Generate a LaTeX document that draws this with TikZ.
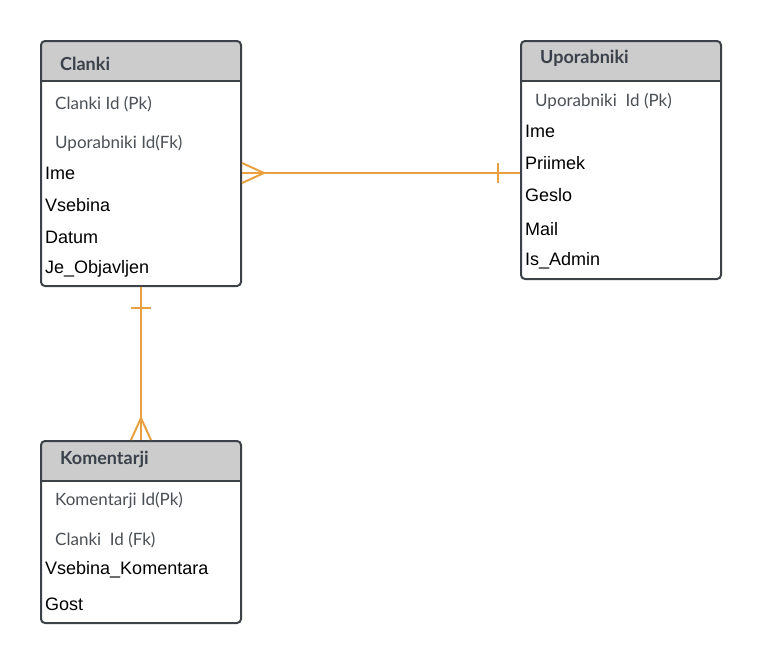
\documentclass[tikz,border=0pt]{standalone}
\usepackage{fontspec}
\setmainfont{Liberation Sans}
\newfontfamily\lato{Lato}
\definecolor{rel}{RGB}{232,160,64}
\definecolor{bord}{RGB}{60,66,72}
\definecolor{head}{RGB}{204,204,204}
\definecolor{keytxt}{RGB}{74,80,86}
\definecolor{titletxt}{RGB}{58,65,74}
\begin{document}
\begin{tikzpicture}[x=1pt,y=-1pt,
  table/.style={draw=bord, line width=2pt, rounded corners=4pt, fill=white, anchor=north west,
    minimum width=200pt, inner sep=0pt,
    path picture={\fill[head] (path picture bounding box.north west) rectangle ([yshift=-40pt]path picture bounding box.north east);
      \draw[bord, line width=2pt] ([yshift=-40pt]path picture bounding box.north west) -- ([yshift=-40pt]path picture bounding box.north east);}},
  title/.style={anchor=west, inner sep=0pt, font=\lato\bfseries\fontsize{18}{21}\selectfont, text=titletxt},
  keyf/.style={anchor=west, inner sep=0pt, font=\lato\fontsize{17}{20}\selectfont, text=keytxt},
  attr/.style={anchor=west, inner sep=0pt, font=\fontsize{18}{21}\selectfont, text=black},
  relline/.style={draw=rel, line width=2pt}]
\useasboundingbox (0,0) rectangle (760,662);
% tables
\node[table, minimum height=245pt] (clanki) at (40,40) {};
\node[table, minimum height=238pt] (upor) at (520,40) {};
\node[table, minimum height=182pt] (kom) at (40,440) {};
% Clanki texts
\node[title] (t1) at (60,64) {Clanki};
\node[keyf] (c1) at (55,104) {Clanki Id (Pk)};
\node[keyf] (c2) at (55,143) {Uporabniki Id(Fk)};
\node[attr] (c3) at (45,173) {Ime};
\node[attr] (c4) at (45,205) {Vsebina};
\node[attr] (c5) at (45,237) {Datum};
\node[attr] (c6) at (45,269) {Je\_Objavljen};
% Uporabniki texts
\node[title] (t2) at (540,58) {Uporabniki};
\node[keyf] (u1) at (535,101) {Uporabniki\ \ Id (Pk)};
\node[attr] (u2) at (525,131) {Ime};
\node[attr] (u3) at (525,163) {Priimek};
\node[attr] (u4) at (525,195) {Geslo};
\node[attr] (u5) at (525,229) {Mail};
\node[attr] (u6) at (525,261) {Is\_Admin};
% Komentarji texts
\node[title] (t3) at (60,459) {Komentarji};
\node[keyf] (k1) at (55,500) {Komentarji Id(Pk)};
\node[keyf] (k2) at (55,540) {Clanki\ \ Id (Fk)};
\node[attr] (k3) at (45,570) {Vsebina\_Komentara};
\node[attr] (k4) at (45,604) {Gost};
% relation Clanki (many) -- Uporabniki (one)
\coordinate (r1a) at (clanki.north east |- 0,173);
\coordinate (r1b) at (upor.north west |- 0,173);
\draw[relline] (r1a) -- (r1b);
\draw[relline] ([yshift=-10pt]r1a) -- ([xshift=22pt]r1a) -- ([yshift=10pt]r1a);
\draw[relline] ([xshift=-22pt,yshift=-10pt]r1b) -- ([xshift=-22pt,yshift=10pt]r1b);
% relation Clanki (one) -- Komentarji (many)
\draw[relline] (clanki.south) -- (kom.north);
\draw[relline] ([xshift=-10pt,yshift=-21pt]clanki.south) -- ([xshift=10pt,yshift=-21pt]clanki.south);
\draw[relline] ([xshift=-10pt]kom.north) -- ([yshift=22pt]kom.north) -- ([xshift=10pt]kom.north);
\end{tikzpicture}
\end{document}
